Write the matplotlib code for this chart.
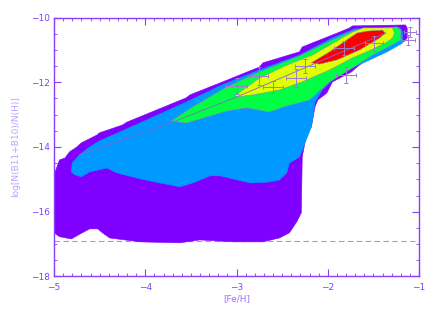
import matplotlib
matplotlib.use("Agg")
import matplotlib.pyplot as plt
import numpy as np
from matplotlib.ticker import MultipleLocator

# contour regions (outer -> inner), [Fe/H] and log N(B)/N(H)
purple_x = [-5.00, -5.00, -4.94, -4.88, -4.83, -4.75, -4.70, -4.53, -4.50, -4.25, -4.20,
            -3.55, -3.51, -3.18, -2.75, -2.71, -2.31, -2.28, -1.95, -1.87, -1.76, -1.73,
            -1.15, -1.13, -1.13, -1.16, -1.21, -1.32, -1.35, -1.51, -1.68, -1.74, -1.95,
            -2.01, -2.11, -2.14, -2.18, -2.23, -2.28, -2.29, -2.34, -2.42, -2.53, -2.71,
            -3.04, -3.40, -3.62, -4.06, -4.39, -4.47, -4.52, -4.61, -4.69, -4.81, -4.94]
purple_y = [-16.65, -14.86, -14.40, -14.34, -14.15, -14.00, -13.87, -13.63, -13.56, -13.32, -13.23,
            -12.48, -12.39, -12.02, -11.53, -11.40, -11.06, -10.91, -10.54, -10.45, -10.32, -10.26,
            -10.23, -10.32, -10.63, -10.73, -10.79, -10.91, -11.00, -11.16, -11.53, -11.68, -11.99,
            -12.33, -12.55, -12.76, -13.38, -13.56, -14.31, -16.03, -16.31, -16.65, -16.81, -16.93,
            -16.93, -16.87, -16.96, -16.93, -16.81, -16.65, -16.53, -16.53, -16.65, -16.84, -16.77]

blue_x = [-4.81, -4.80, -4.72, -4.61, -4.50, -4.25, -3.55, -3.18, -2.75, -2.31, -1.95, -1.70,
          -1.21, -1.18, -1.18, -1.18, -1.35, -1.61, -1.79, -1.95, -2.06, -2.14, -2.18, -2.31,
          -2.42, -2.45, -2.53, -2.64, -2.85, -3.18, -3.29, -3.48, -3.62, -3.84, -4.06, -4.31,
          -4.42, -4.61, -4.70, -4.77]
blue_y = [-14.77, -14.49, -14.24, -14.00, -13.81, -13.50, -12.61, -12.11, -11.62, -11.16, -10.63, -10.35,
          -10.32, -10.45, -10.69, -10.79, -11.06, -11.40, -11.62, -11.93, -12.24, -12.61, -13.38, -14.31,
          -14.49, -14.80, -15.02, -15.08, -15.11, -14.89, -14.89, -15.11, -15.23, -15.11, -14.98, -14.80,
          -14.65, -14.77, -14.92, -14.86]

green_x = [-3.71, -3.48, -3.11, -2.75, -2.31, -1.95, -1.70, -1.24, -1.20, -1.20, -1.24, -1.51,
           -1.73, -1.98, -2.20, -2.45, -2.64, -2.89, -3.11, -3.55]
green_y = [-13.19, -12.76, -12.15, -11.68, -11.19, -10.69, -10.39, -10.29, -10.39, -10.69, -10.76, -11.16,
           -11.56, -11.99, -12.55, -12.73, -12.92, -12.79, -12.89, -13.26]

yellow_x = [-3.02, -2.75, -2.45, -2.17, -1.73, -1.61, -1.29, -1.27, -1.29, -1.35, -1.57, -1.73,
            -1.98, -2.28, -2.53, -2.82, -2.99]
yellow_y = [-12.42, -11.87, -11.47, -11.16, -10.45, -10.32, -10.32, -10.48, -10.63, -10.76, -11.06, -11.25,
            -11.62, -11.99, -12.24, -12.39, -12.45]

red_x = [-2.18, -1.98, -1.79, -1.68, -1.57, -1.40, -1.37, -1.43, -1.65, -1.90, -2.09]
red_y = [-11.40, -11.06, -10.69, -10.48, -10.42, -10.39, -10.48, -10.63, -11.00, -11.31, -11.44]

# mean trend line
trend_x = [-4.72, -3.70, -3.02, -1.36]
trend_y = [-14.24, -13.23, -12.48, -10.48]

# observed stars with error bars
obs_feh = [-3.00, -2.75, -2.60, -2.35, -2.25, -1.82, -1.80, -1.49, -1.10, -1.12]
obs_b = [-12.11, -11.81, -12.15, -11.87, -11.50, -10.94, -11.77, -10.80, -10.45, -10.69]
obs_xerr = [0.11, 0.10, 0.11, 0.11, 0.11, 0.11, 0.11, 0.10, 0.07, 0.08]
obs_yerr = [0.25, 0.28, 0.19, 0.28, 0.22, 0.22, 0.25, 0.22, 0.15, 0.15]

floor_level = -16.89

axis_col = '#8a3cff'
fig = plt.figure(figsize=(4.36, 3.12), dpi=100)
ax = fig.add_axes([0.1239, 0.1138, 0.8372, 0.8301])

ax.axhline(floor_level, color='#b38cff', lw=0.8, ls=(0, (5, 3)), zorder=1)

layers = [(purple_x, purple_y, '#7f00ff'),
          (blue_x, blue_y, '#0099ff'),
          (green_x, green_y, '#00ff44'),
          (yellow_x, yellow_y, '#e0ff00'),
          (red_x, red_y, '#ff0000')]
for i, (xs, ys, c) in enumerate(layers):
    ec = c if i < 2 else '#8a8aa8'
    ax.fill(xs, ys, color=c, ec=ec, lw=0.4, zorder=2 + i)

ax.plot(trend_x, trend_y, color='#8866cc', lw=0.6, zorder=8)
ax.errorbar(obs_feh, obs_b, xerr=obs_xerr, yerr=obs_yerr, fmt='none',
            ecolor='#a07ad0', elinewidth=0.7, capsize=1.5, capthick=0.7, zorder=9)

ax.set_xlim(-5, -1)
ax.set_ylim(-18, -10)
ax.xaxis.set_major_locator(MultipleLocator(1))
ax.xaxis.set_minor_locator(MultipleLocator(0.1))
ax.yaxis.set_major_locator(MultipleLocator(2))
ax.yaxis.set_minor_locator(MultipleLocator(0.5))
ax.tick_params(which='both', direction='in', top=True, right=True, colors=axis_col,
               labelsize=6.5, labelcolor='#8040ff')
ax.tick_params(which='major', length=5, width=0.8)
ax.tick_params(which='minor', length=2.5, width=0.6)
ax.tick_params(axis='x', pad=5)
ax.tick_params(axis='y', pad=3)
for s in ax.spines.values():
    s.set_color(axis_col)
    s.set_linewidth(1.0)

ax.set_xlabel('[Fe/H]', color='#a070ff', fontsize=6.5, labelpad=1)
ax.set_ylabel('log[N(B11+B10)/N(H)]', color='#c0a0ff', fontsize=6.5, labelpad=8)

fig.savefig('out.png', dpi=100)
